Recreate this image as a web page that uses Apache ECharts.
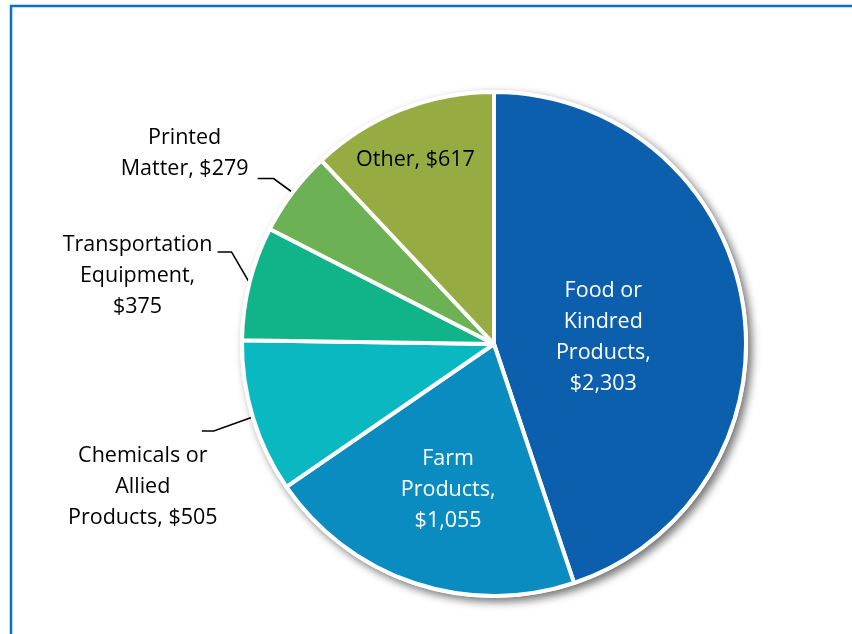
<!DOCTYPE html>
<html>
<head>
<meta charset="utf-8">
<script src="https://cdn.jsdelivr.net/npm/echarts@6/dist/echarts.min.js"></script>
<style>
  html, body { margin: 0; padding: 0; background: #fff; }
  #chart { width: 852px; height: 634px; }
</style>
</head>
<body>
<div id="chart"></div>
<script>
// 分類與數值 (百萬美元)
const categories = [
  'Food or\nKindred\nProducts,',
  'Farm\nProducts,',
  'Chemicals or\nAllied\nProducts,',
  'Transportation\nEquipment,\n',
  'Printed\nMatter,',
  'Other,'
]
const values = [2303, 1055, 505, 375, 279, 617]
const valueLabels = ['$2,303', '$1,055', '$505', '$375', '$279', '$617']
const colors = ['#0b5fad', '#0a8cc0', '#0ab8c2', '#10b488', '#6cb255', '#96ac42']

const total = values.reduce((a, b) => a + b, 0)

// 標籤樣式：內部或外部
const labelStyle = [
  { inside: true, color: '#fff', offset: [-18, 14] },
  { inside: true, color: '#fff', offset: [-5, 24] },
  { inside: false },
  { inside: false },
  { inside: false },
  { inside: true, color: '#000', offset: [-31, -64] }
]

// 外部標籤: 引導線折點與文字位置 (相對於扇形邊緣點)
const outsideLayout = {
  2: { p1: [-39, 14], p2: [-51, 14], text: [-110, 70] },
  3: { p1: [-18, -31], p2: [-32, -31], text: [-112, -7] },
  4: { p1: [-19, -14], p2: [-35, -14], text: [-108, -39] }
}

function labelText(i) {
  const name = categories[i]
  if (name.endsWith('\n')) return name + valueLabels[i]
  if (i === 2 || i === 4) {
    const parts = name.split('\n')
    parts[parts.length - 1] += ' ' + valueLabels[i]
    return parts.join('\n')
  }
  if (i === 5) return name + ' ' + valueLabels[i]
  return name + '\n' + valueLabels[i]
}

const pieData = values.map((v, i) => {
  const s = labelStyle[i]
  return {
    name: categories[i],
    value: v,
    itemStyle: { color: colors[i] },
    label: s.inside
      ? { position: 'inside', color: s.color, offset: s.offset }
      : { position: 'outside', color: '#000' },
    labelLine: { show: !s.inside }
  }
})

const mChart = echarts.init(document.getElementById('chart'))
const option = {
  animation: false,
  backgroundColor: '#fff',
  graphic: [
    {
      type: 'rect',
      shape: { x: 11, y: 6, width: 900, height: 700 },
      style: { fill: 'none', stroke: '#0a6fc2', lineWidth: 2.5 },
      silent: true
    }
  ],
  series: [
    {
      // 陰影底盤
      type: 'pie',
      center: [494, 344],
      radius: 254,
      silent: true,
      z: 1,
      label: { show: false },
      labelLine: { show: false },
      itemStyle: {
        color: '#fff',
        shadowBlur: 9,
        shadowOffsetX: 4,
        shadowOffsetY: 4,
        shadowColor: 'rgba(0, 0, 0, 0.55)'
      },
      data: [{ value: total }]
    },
    {
      type: 'pie',
      center: [494, 344],
      radius: 252,
      startAngle: 90,
      clockwise: true,
      z: 2,
      itemStyle: {
        borderColor: '#fff',
        borderWidth: 4
      },
      label: {
        fontFamily: 'Open Sans',
        fontSize: 21.5,
        lineHeight: 31,
        align: 'center',
        formatter: (p) => labelText(p.dataIndex)
      },
      labelLine: {
        length: 20,
        length2: 15,
        lineStyle: { color: '#000', width: 1.6 }
      },
      labelLayout: (params) => {
        const cfg = outsideLayout[params.dataIndex]
        if (!cfg || !params.labelLinePoints) return {}
        const p0 = params.labelLinePoints[0]
        return {
          x: p0[0] + cfg.text[0],
          y: p0[1] + cfg.text[1],
          align: 'center',
          verticalAlign: 'middle',
          labelLinePoints: [
            [p0[0], p0[1]],
            [p0[0] + cfg.p1[0], p0[1] + cfg.p1[1]],
            [p0[0] + cfg.p2[0], p0[1] + cfg.p2[1]]
          ]
        }
      },
      data: pieData
    }
  ]
}
mChart.setOption(option)
</script>
</body>
</html>
